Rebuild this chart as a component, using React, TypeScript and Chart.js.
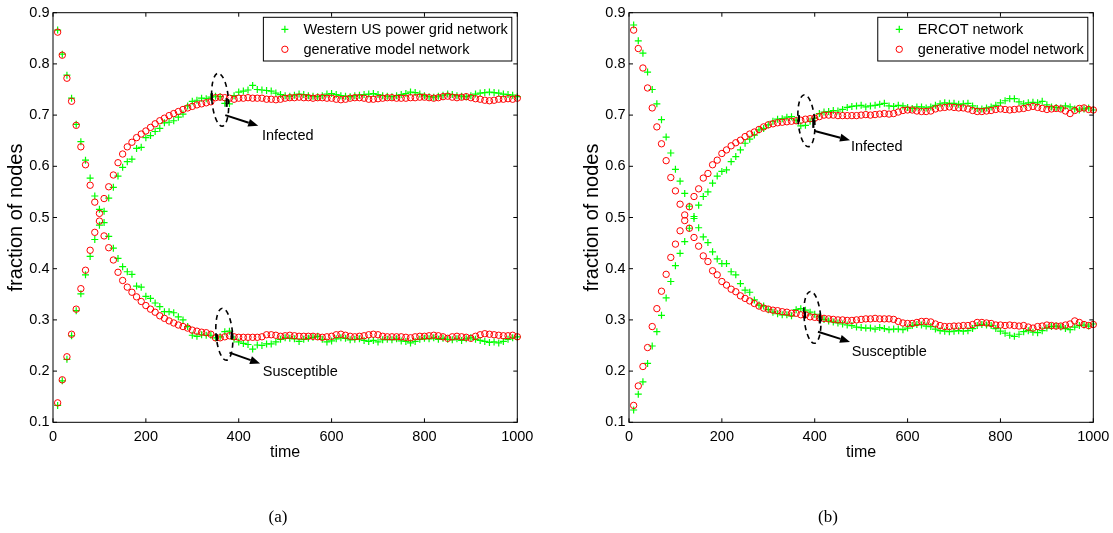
import React, { useEffect, useRef } from 'react';
import { Chart, registerables } from 'chart.js';

Chart.register(...registerables);

// time axis (every 10 steps)
const times: number[] = Array.from({ length: 100 }, (_, i) => (i + 1) * 10);

const xTickStep = 200;
const yTickStep = 0.1;

// ---------- panel (a): Western US power grid ----------
const westernSusceptible = [
  0.866, 0.819, 0.778, 0.733, 0.682, 0.648, 0.612, 0.577, 0.542, 0.516,
  0.490, 0.463, 0.440, 0.420, 0.404, 0.394, 0.389, 0.366, 0.364, 0.346,
  0.342, 0.333, 0.326, 0.316, 0.316, 0.314, 0.306, 0.300, 0.287, 0.270,
  0.268, 0.271, 0.270, 0.270, 0.265, 0.267, 0.277, 0.278, 0.262, 0.257,
  0.254, 0.252, 0.243, 0.251, 0.250, 0.253, 0.253, 0.257, 0.262, 0.265,
  0.264, 0.263, 0.258, 0.262, 0.264, 0.266, 0.268, 0.262, 0.257, 0.259,
  0.263, 0.265, 0.264, 0.261, 0.262, 0.263, 0.260, 0.258, 0.260, 0.257,
  0.261, 0.262, 0.261, 0.263, 0.259, 0.258, 0.255, 0.258, 0.262, 0.264,
  0.263, 0.265, 0.262, 0.264, 0.262, 0.261, 0.263, 0.260, 0.263, 0.265,
  0.262, 0.260, 0.258, 0.256, 0.257, 0.255, 0.258, 0.262, 0.265, 0.267,
];
const westernInfected = [
  0.133, 0.181, 0.223, 0.269, 0.318, 0.351, 0.388, 0.424, 0.457, 0.485,
  0.512, 0.538, 0.559, 0.581, 0.598, 0.609, 0.614, 0.635, 0.637, 0.656,
  0.660, 0.668, 0.674, 0.685, 0.686, 0.689, 0.696, 0.702, 0.718, 0.727,
  0.729, 0.733, 0.732, 0.735, 0.737, 0.736, 0.723, 0.722, 0.738, 0.745,
  0.747, 0.749, 0.758, 0.750, 0.749, 0.748, 0.747, 0.743, 0.740, 0.738,
  0.737, 0.739, 0.741, 0.740, 0.738, 0.737, 0.736, 0.738, 0.741, 0.742,
  0.740, 0.738, 0.737, 0.736, 0.738, 0.739, 0.740, 0.741, 0.742, 0.740,
  0.738, 0.737, 0.736, 0.738, 0.740, 0.742, 0.745, 0.744, 0.741, 0.738,
  0.736, 0.735, 0.737, 0.739, 0.741, 0.740, 0.738, 0.737, 0.736, 0.738,
  0.741, 0.743, 0.744, 0.745, 0.744, 0.743, 0.741, 0.740, 0.739, 0.736,
];
const modelASusceptible = [
  0.862, 0.817, 0.772, 0.727, 0.680, 0.638, 0.603, 0.563, 0.530, 0.508,
  0.464, 0.441, 0.417, 0.393, 0.377, 0.364, 0.354, 0.345, 0.336, 0.328,
  0.321, 0.315, 0.308, 0.303, 0.298, 0.294, 0.290, 0.287, 0.284, 0.280,
  0.278, 0.276, 0.275, 0.272, 0.265, 0.265, 0.267, 0.269, 0.267, 0.266,
  0.266, 0.266, 0.266, 0.266, 0.267, 0.271, 0.271, 0.270, 0.268, 0.269,
  0.270, 0.269, 0.268, 0.268, 0.268, 0.268, 0.267, 0.266, 0.267, 0.268,
  0.271, 0.272, 0.270, 0.268, 0.267, 0.268, 0.269, 0.271, 0.272, 0.271,
  0.268, 0.267, 0.267, 0.267, 0.267, 0.266, 0.265, 0.267, 0.268, 0.268,
  0.269, 0.270, 0.269, 0.267, 0.264, 0.267, 0.268, 0.267, 0.266, 0.264,
  0.268, 0.271, 0.273, 0.272, 0.271, 0.270, 0.269, 0.269, 0.270, 0.267,
];
const modelAInfected = [
  0.138, 0.183, 0.228, 0.272, 0.321, 0.361, 0.397, 0.436, 0.471, 0.493,
  0.537, 0.560, 0.583, 0.607, 0.624, 0.638, 0.647, 0.656, 0.663, 0.669,
  0.676, 0.683, 0.689, 0.694, 0.699, 0.703, 0.707, 0.711, 0.714, 0.717,
  0.720, 0.722, 0.724, 0.726, 0.734, 0.735, 0.734, 0.733, 0.731, 0.733,
  0.733, 0.734, 0.733, 0.733, 0.733, 0.731, 0.731, 0.730, 0.731, 0.733,
  0.734, 0.734, 0.735, 0.734, 0.734, 0.733, 0.734, 0.734, 0.733, 0.733,
  0.731, 0.730, 0.731, 0.733, 0.734, 0.734, 0.733, 0.731, 0.731, 0.732,
  0.733, 0.734, 0.734, 0.733, 0.733, 0.733, 0.734, 0.734, 0.735, 0.735,
  0.734, 0.733, 0.734, 0.736, 0.737, 0.735, 0.734, 0.735, 0.736, 0.734,
  0.732, 0.731, 0.729, 0.728, 0.729, 0.731, 0.731, 0.732, 0.731, 0.733,
];

// ---------- panel (b): ERCOT ----------
const ercotSusceptible = [
  0.876, 0.845, 0.821, 0.784, 0.750, 0.722, 0.691, 0.657, 0.626, 0.594,
  0.571, 0.547, 0.522, 0.502, 0.480, 0.462, 0.451, 0.433, 0.419, 0.410,
  0.410, 0.394, 0.388, 0.371, 0.358, 0.354, 0.339, 0.329, 0.327, 0.320,
  0.315, 0.312, 0.310, 0.310, 0.308, 0.320, 0.322, 0.319, 0.315, 0.311,
  0.306, 0.301, 0.298, 0.296, 0.294, 0.292, 0.290, 0.289, 0.286, 0.285,
  0.284, 0.284, 0.282, 0.285, 0.283, 0.281, 0.282, 0.282, 0.281, 0.284,
  0.289, 0.291, 0.290, 0.288, 0.287, 0.282, 0.279, 0.278, 0.277, 0.278,
  0.279, 0.278, 0.279, 0.283, 0.289, 0.291, 0.290, 0.289, 0.283, 0.278,
  0.274, 0.270, 0.268, 0.272, 0.277, 0.279, 0.276, 0.275, 0.279, 0.284,
  0.287, 0.288, 0.286, 0.283, 0.281, 0.286, 0.289, 0.290, 0.288, 0.292,
];
const ercotInfected = [
  0.124, 0.155, 0.179, 0.215, 0.249, 0.277, 0.309, 0.343, 0.375, 0.406,
  0.430, 0.453, 0.479, 0.498, 0.524, 0.541, 0.550, 0.567, 0.581, 0.590,
  0.593, 0.609, 0.619, 0.632, 0.645, 0.653, 0.661, 0.671, 0.674, 0.681,
  0.688, 0.692, 0.693, 0.696, 0.697, 0.690, 0.679, 0.680, 0.688, 0.694,
  0.703, 0.706, 0.707, 0.709, 0.708, 0.711, 0.715, 0.717, 0.718, 0.719,
  0.716, 0.718, 0.719, 0.721, 0.723, 0.718, 0.717, 0.719, 0.718, 0.715,
  0.713, 0.716, 0.716, 0.714, 0.716, 0.719, 0.722, 0.724, 0.723, 0.723,
  0.721, 0.722, 0.723, 0.718, 0.713, 0.712, 0.714, 0.716, 0.719, 0.724,
  0.728, 0.732, 0.732, 0.726, 0.722, 0.724, 0.725, 0.724, 0.727, 0.720,
  0.716, 0.715, 0.714, 0.718, 0.716, 0.712, 0.710, 0.712, 0.714, 0.710,
];
const modelBSusceptible = [
  0.866, 0.830, 0.792, 0.753, 0.714, 0.677, 0.644, 0.611, 0.578, 0.552,
  0.526, 0.505, 0.479, 0.461, 0.444, 0.425, 0.414, 0.396, 0.388, 0.375,
  0.368, 0.360, 0.355, 0.347, 0.342, 0.337, 0.332, 0.327, 0.323, 0.321,
  0.319, 0.318, 0.316, 0.315, 0.313, 0.313, 0.310, 0.310, 0.306, 0.305,
  0.304, 0.303, 0.302, 0.301, 0.300, 0.300, 0.299, 0.299, 0.300, 0.301,
  0.302, 0.302, 0.303, 0.302, 0.302, 0.302, 0.301, 0.297, 0.294, 0.293,
  0.293, 0.295, 0.297, 0.297, 0.296, 0.292, 0.289, 0.287, 0.287, 0.288,
  0.288, 0.289, 0.289, 0.291, 0.295, 0.295, 0.294, 0.293, 0.290, 0.290,
  0.289, 0.290, 0.289, 0.288, 0.289, 0.286, 0.284, 0.287, 0.288, 0.290,
  0.289, 0.288, 0.288, 0.290, 0.292, 0.298, 0.295, 0.291, 0.289, 0.291,
];
const modelBInfected = [
  0.133, 0.171, 0.209, 0.246, 0.287, 0.322, 0.356, 0.389, 0.422, 0.448,
  0.474, 0.494, 0.521, 0.541, 0.556, 0.577, 0.586, 0.603, 0.612, 0.625,
  0.632, 0.640, 0.646, 0.651, 0.658, 0.663, 0.667, 0.672, 0.677, 0.681,
  0.683, 0.685, 0.686, 0.687, 0.688, 0.689, 0.690, 0.692, 0.693, 0.694,
  0.697, 0.700, 0.700, 0.700, 0.699, 0.699, 0.699, 0.699, 0.699, 0.700,
  0.701, 0.700, 0.701, 0.702, 0.703, 0.702, 0.703, 0.706, 0.709, 0.710,
  0.710, 0.708, 0.707, 0.707, 0.708, 0.712, 0.714, 0.715, 0.716, 0.715,
  0.714, 0.714, 0.712, 0.709, 0.707, 0.707, 0.708, 0.709, 0.711, 0.712,
  0.711, 0.710, 0.711, 0.712, 0.713, 0.715, 0.717, 0.715, 0.713, 0.711,
  0.712, 0.713, 0.712, 0.708, 0.703, 0.709, 0.713, 0.714, 0.711, 0.710,
];

const FONT = '"Liberation Sans", Arial, Helvetica, sans-serif';
const GREEN = 'rgb(0,255,0)';
const RED = 'rgb(255,0,0)';

type Annot = {
  ellipses: { t: number; v: number; rx: number; ry: number; rot: number }[];
  marks: { t: number; v1: number; v2: number }[];
  arrows: { t1: number; v1: number; t2: number; v2: number }[];
  labels: { t: number; v: number; text: string }[];
};

const annotA: Annot = {
  ellipses: [
    { t: 360, v: 0.730, rx: 8.3, ry: 26.5, rot: -0.08 },
    { t: 369, v: 0.272, rx: 8.3, ry: 26, rot: -0.08 },
  ],
  marks: [
    { t: 342, v1: 0.743, v2: 0.729 },
    { t: 374, v1: 0.733, v2: 0.716 },
    { t: 353, v1: 0.272, v2: 0.259 },
    { t: 385, v1: 0.277, v2: 0.262 },
  ],
  arrows: [
    { t1: 371, v1: 0.700, t2: 442, v2: 0.679 },
    { t1: 380, v1: 0.236, t2: 446, v2: 0.215 },
  ],
  labels: [
    { t: 450, v: 0.659, text: 'Infected' },
    { t: 452, v: 0.199, text: 'Susceptible' },
  ],
};

const annotB: Annot = {
  ellipses: [
    { t: 382, v: 0.689, rx: 8.3, ry: 26, rot: -0.08 },
    { t: 395, v: 0.305, rx: 8.3, ry: 26, rot: -0.08 },
  ],
  marks: [
    { t: 366, v1: 0.700, v2: 0.687 },
    { t: 397, v1: 0.694, v2: 0.675 },
    { t: 379, v1: 0.316, v2: 0.303 },
    { t: 411, v1: 0.310, v2: 0.293 },
  ],
  arrows: [
    { t1: 400, v1: 0.669, t2: 476, v2: 0.651 },
    { t1: 407, v1: 0.277, t2: 476, v2: 0.257 },
  ],
  labels: [
    { t: 478, v: 0.637, text: 'Infected' },
    { t: 480, v: 0.238, text: 'Susceptible' },
  ],
};

function makeDecor(annot: Annot, legendLabels: string[]) {
  return {
    id: 'paperDecor',
    afterDatasetsDraw(chart: any) {
      const { ctx, chartArea: a } = chart;
      const xs = chart.scales.x;
      const ys = chart.scales.y;
      ctx.save();
      // frame
      ctx.strokeStyle = '#000';
      ctx.lineWidth = 1;
      ctx.setLineDash([]);
      ctx.strokeRect(a.left, a.top, a.right - a.left, a.bottom - a.top);
      const tl = 4;
      ctx.beginPath();
      xs.ticks.forEach((tk: any) => {
        const px = xs.getPixelForValue(tk.value);
        ctx.moveTo(px, a.bottom);
        ctx.lineTo(px, a.bottom - tl);
        ctx.moveTo(px, a.top);
        ctx.lineTo(px, a.top + tl);
      });
      ys.ticks.forEach((tk: any) => {
        const py = ys.getPixelForValue(tk.value);
        ctx.moveTo(a.left, py);
        ctx.lineTo(a.left + tl, py);
        ctx.moveTo(a.right, py);
        ctx.lineTo(a.right - tl, py);
      });
      ctx.stroke();

      // dashed ellipses
      ctx.lineWidth = 1.6;
      ctx.setLineDash([5, 4]);
      annot.ellipses.forEach((e) => {
        ctx.beginPath();
        ctx.ellipse(xs.getPixelForValue(e.t), ys.getPixelForValue(e.v), e.rx, e.ry, e.rot, 0, Math.PI * 2);
        ctx.stroke();
      });
      ctx.setLineDash([]);
      // data-tip marks
      ctx.lineWidth = 2.2;
      annot.marks.forEach((m) => {
        const px = xs.getPixelForValue(m.t);
        ctx.beginPath();
        ctx.moveTo(px, ys.getPixelForValue(m.v1));
        ctx.lineTo(px, ys.getPixelForValue(m.v2));
        ctx.stroke();
      });
      // arrows
      ctx.fillStyle = '#000';
      annot.arrows.forEach((ar) => {
        const x1 = xs.getPixelForValue(ar.t1);
        const y1 = ys.getPixelForValue(ar.v1);
        const x2 = xs.getPixelForValue(ar.t2);
        const y2 = ys.getPixelForValue(ar.v2);
        const ang = Math.atan2(y2 - y1, x2 - x1);
        const hl = 10;
        const hw = 4;
        const bx = x2 - hl * Math.cos(ang);
        const by = y2 - hl * Math.sin(ang);
        ctx.lineWidth = 2;
        ctx.beginPath();
        ctx.moveTo(x1, y1);
        ctx.lineTo(bx, by);
        ctx.stroke();
        ctx.beginPath();
        ctx.moveTo(x2, y2);
        ctx.lineTo(bx + hw * Math.sin(ang), by - hw * Math.cos(ang));
        ctx.lineTo(bx - hw * Math.sin(ang), by + hw * Math.cos(ang));
        ctx.closePath();
        ctx.fill();
      });
      // labels
      ctx.font = `14.5px ${FONT}`;
      ctx.textAlign = 'left';
      ctx.textBaseline = 'middle';
      annot.labels.forEach((l) => {
        ctx.fillText(l.text, xs.getPixelForValue(l.t), ys.getPixelForValue(l.v));
      });
      ctx.restore();
    },
    afterDraw(chart: any) {
      const { ctx, chartArea: a } = chart;
      ctx.save();
      ctx.font = `14.5px ${FONT}`;
      const tw = Math.max(...legendLabels.map((s) => ctx.measureText(s).width));
      const right = a.right - 5.5;
      const left = right - (tw + 44);
      const top = a.top + 4.6;
      const h = 43.7;
      ctx.fillStyle = '#fff';
      ctx.fillRect(left, top, right - left, h);
      ctx.strokeStyle = '#000';
      ctx.lineWidth = 1;
      ctx.strokeRect(left, top, right - left, h);
      const mx = left + 21.5;
      const rows = [top + 12, top + 32];
      // markers
      ctx.strokeStyle = GREEN;
      ctx.lineWidth = 1.2;
      ctx.beginPath();
      ctx.moveTo(mx - 3.5, rows[0]);
      ctx.lineTo(mx + 3.5, rows[0]);
      ctx.moveTo(mx, rows[0] - 3.5);
      ctx.lineTo(mx, rows[0] + 3.5);
      ctx.stroke();
      ctx.strokeStyle = RED;
      ctx.lineWidth = 1;
      ctx.beginPath();
      ctx.arc(mx, rows[1], 3.2, 0, Math.PI * 2);
      ctx.stroke();
      ctx.fillStyle = '#000';
      ctx.textAlign = 'left';
      ctx.textBaseline = 'middle';
      legendLabels.forEach((s, i) => ctx.fillText(s, left + 40, rows[i] + 0.5));
      ctx.restore();
    },
  };
}

type PanelProps = {
  left: number;
  width: number;
  padLeft: number;
  padRight: number;
  dataSus: number[];
  dataInf: number[];
  modelSus: number[];
  modelInf: number[];
  dataLabel: string;
  modelLabel: string;
  annot: Annot;
};

function Panel(p: PanelProps) {
  const ref = useRef<HTMLCanvasElement | null>(null);
  useEffect(() => {
    if (!ref.current) return;
    const toPts = (vals: number[]) => vals.map((v, i) => ({ x: times[i], y: v }));
    const greenStyle = {
      showLine: false,
      pointStyle: 'cross',
      pointRadius: 3.5,
      pointBorderWidth: 1.2,
      borderColor: GREEN,
      backgroundColor: GREEN,
      pointBorderColor: GREEN,
      clip: false as any,
      order: 1,
    };
    const redStyle = {
      showLine: false,
      pointStyle: 'circle',
      pointRadius: 3.2,
      pointBorderWidth: 1,
      borderColor: RED,
      pointBorderColor: RED,
      backgroundColor: 'rgba(0,0,0,0)',
      pointBackgroundColor: 'rgba(0,0,0,0)',
      clip: false as any,
      order: 0,
    };
    const chart = new Chart(ref.current, {
      type: 'scatter',
      data: {
        datasets: [
          { label: p.dataLabel, data: toPts(p.dataSus), ...greenStyle },
          { label: p.dataLabel + ' (I)', data: toPts(p.dataInf), ...greenStyle },
          { label: p.modelLabel, data: toPts(p.modelSus), ...redStyle },
          { label: p.modelLabel + ' (I)', data: toPts(p.modelInf), ...redStyle },
        ] as any,
      },
      options: {
        responsive: false,
        animation: false,
        layout: { padding: { left: p.padLeft, right: p.padRight, top: 12.7, bottom: 70.4 } },
        plugins: { legend: { display: false }, tooltip: { enabled: false } },
        scales: {
          x: {
            type: 'linear',
            min: 0,
            max: 1000,
            grid: { display: false, drawTicks: false },
            border: { display: false },
            ticks: {
              stepSize: xTickStep,
              padding: 6,
              color: '#000',
              maxRotation: 0,
              autoSkip: false,
              font: { family: FONT, size: 14.5 },
              callback: (v: any) => String(v),
            },
            title: {
              display: true,
              text: 'time',
              color: '#000',
              font: { family: FONT, size: 16 },
              padding: { top: 0, bottom: 0 },
            },
            afterFit: (s: any) => {
              s.height = 40.3;
              s.paddingLeft = 0;
              s.paddingRight = 0;
            },
          },
          y: {
            type: 'linear',
            min: 0.1,
            max: 0.9,
            grid: { display: false, drawTicks: false },
            border: { display: false },
            ticks: {
              stepSize: yTickStep,
              padding: 3.5,
              color: '#000',
              font: { family: FONT, size: 14.5 },
              callback: (v: any) => Number(v).toFixed(1),
            },
            title: {
              display: true,
              text: 'fraction of nodes',
              color: '#000',
              font: { family: FONT, size: 20 },
              padding: { top: 4.4, bottom: 0 },
            },
            afterFit: (s: any) => {
              s.width = 53;
            },
          },
        },
      },
      plugins: [makeDecor(p.annot, [p.dataLabel, p.modelLabel])],
    } as any);
    return () => chart.destroy();
  }, []);
  return (
    <canvas
      ref={ref}
      width={p.width}
      height={533}
      style={{ position: 'absolute', left: p.left, top: 0, width: p.width, height: 533 }}
    />
  );
}

export default function App() {
  return (
    <div style={{ position: 'absolute', left: 0, top: 0, width: 1113, height: 533, background: '#fff', overflow: 'hidden' }}>
      <Panel
        left={0}
        width={556}
        padLeft={0}
        padRight={38.7}
        dataSus={westernSusceptible}
        dataInf={westernInfected}
        modelSus={modelASusceptible}
        modelInf={modelAInfected}
        dataLabel="Western US power grid network"
        modelLabel="generative model network"
        annot={annotA}
      />
      <Panel
        left={556}
        width={557}
        padLeft={20}
        padRight={19.7}
        dataSus={ercotSusceptible}
        dataInf={ercotInfected}
        modelSus={modelBSusceptible}
        modelInf={modelBInfected}
        dataLabel="ERCOT network"
        modelLabel="generative model network"
        annot={annotB}
      />
      <div style={{ position: 'absolute', left: 238, top: 506, width: 80, textAlign: 'center', fontFamily: '"Liberation Serif", "Times New Roman", serif', fontSize: 17, lineHeight: '22px', color: '#000' }}>
        (a)
      </div>
      <div style={{ position: 'absolute', left: 788, top: 506, width: 80, textAlign: 'center', fontFamily: '"Liberation Serif", "Times New Roman", serif', fontSize: 17, lineHeight: '22px', color: '#000' }}>
        (b)
      </div>
    </div>
  );
}
